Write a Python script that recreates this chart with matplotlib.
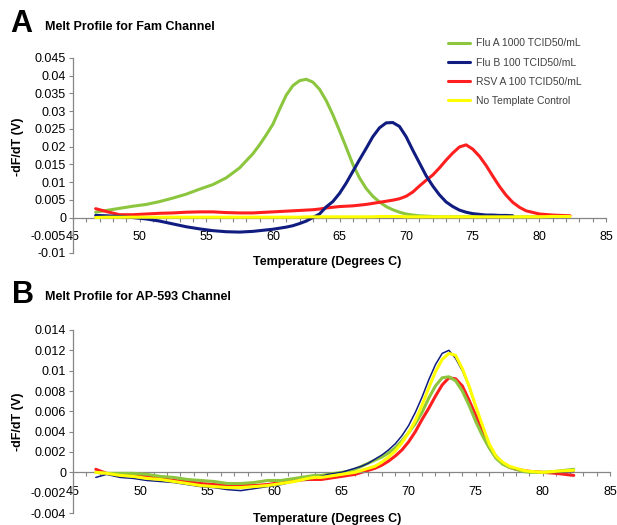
import numpy as np
import matplotlib
matplotlib.use('Agg')
import matplotlib.pyplot as plt
from matplotlib.ticker import MultipleLocator, FuncFormatter

plt.rcParams['font.family'] = ['Liberation Sans', 'DejaVu Sans']

# ---- Panel A: Fam channel ----
temp_a = [46.7, 47.5, 48.5, 49.5, 50.5, 51.5, 52.5, 53.5, 54.5, 55.5, 56.5, 57.5, 58.5,
          59, 59.5, 60, 60.5, 61, 61.5, 62, 62.5, 63, 63.5, 64, 64.5, 65, 65.5, 66, 66.5,
          67, 67.5, 68, 68.5, 69, 69.5, 70, 70.5, 71, 71.5, 72, 72.5, 73, 73.5, 74, 74.5,
          75, 75.5, 76, 76.5, 77, 77.5, 78, 78.5, 79, 80, 81, 82.3]

flu_a_a = [0.0015, 0.0020, 0.0026, 0.0032, 0.0037, 0.0045, 0.0055, 0.0066, 0.0080, 0.0093,
           0.0112, 0.0140, 0.0180,
           0.0205, 0.0233, 0.0263, 0.0305, 0.0345, 0.0372, 0.0386, 0.0390, 0.0382, 0.0362,
           0.0330, 0.0290, 0.0245, 0.0198, 0.0150, 0.0112, 0.0082, 0.0060, 0.0044, 0.0031,
           0.0022, 0.0015, 0.0010, 0.0007, 0.0005, 0.0004, 0.0003, 0.0002, 0.0002, 0.0002,
           0.0002, 0.0002, 0.0002, 0.0002, 0.0002, 0.0002, 0.0002, 0.0002, 0.0002, 0.0002,
           0.0002, 0.0002, np.nan, np.nan]

flu_b_a = [0.0006, 0.0005, 0.0003, 0.0000, -0.0004, -0.0010, -0.0018, -0.0026, -0.0032,
           -0.0037, -0.0040, -0.0041, -0.0039,
           -0.0037, -0.0035, -0.0033, -0.0030, -0.0027, -0.0023, -0.0017, -0.0010, 0.0000,
           0.0010, 0.0030, 0.0045, 0.0068, 0.0097, 0.0130, 0.0163, 0.0195, 0.0228, 0.0253,
           0.0267, 0.0268, 0.0257, 0.0228, 0.0190, 0.0154, 0.0118, 0.0089, 0.0064, 0.0044,
           0.0031, 0.0021, 0.0015, 0.0011, 0.0009, 0.0007, 0.0007, 0.0006, 0.0006, 0.0005,
           np.nan, np.nan, np.nan, np.nan, np.nan]

rsv_a_a = [0.0025, 0.0017, 0.0008, 0.0008, 0.0010, 0.0012, 0.0013, 0.0015, 0.0016, 0.0016,
           0.0014, 0.0013, 0.0013,
           0.0014, 0.0015, 0.0016, 0.0017, 0.0018, 0.0019, 0.0020, 0.0021, 0.0022, 0.0024,
           0.0027, 0.0029, 0.0031, 0.0032, 0.0033, 0.0035, 0.0037, 0.0040, 0.0043, 0.0046,
           0.0049, 0.0053, 0.0060, 0.0072, 0.0089, 0.0105, 0.0120, 0.0140, 0.0162, 0.0182,
           0.0199, 0.0205, 0.0193, 0.0173, 0.0147, 0.0117, 0.0088, 0.0063, 0.0043, 0.0029,
           0.0019, 0.0010, 0.0007, 0.0005]

ntc_a = [0.0000, 0.0001, 0.0001, 0.0001, 0.0001, 0.0001, 0.0001, 0.0001, 0.0001, 0.0001,
         0.0001, 0.0001, 0.0001,
         0.0001, 0.0001, 0.0001, 0.0001, 0.0001, 0.0001, 0.0001, 0.0002, 0.0002, 0.0002,
         0.0002, 0.0002, 0.0002, 0.0002, 0.0002, 0.0002, 0.0002, 0.0002, 0.0003, 0.0003,
         0.0003, 0.0003, 0.0002, 0.0002, 0.0002, 0.0002, 0.0002, 0.0002, 0.0002, 0.0002,
         0.0002, 0.0002, 0.0002, 0.0002, 0.0002, 0.0002, 0.0002, 0.0002, 0.0002, 0.0002,
         0.0002, 0.0002, 0.0003, 0.0003]

# ---- Panel B: AP-593 channel ----
temp_b = [46.7, 47.5, 48.5, 49.5, 50.5, 51.5, 52.5, 53.5, 54.5, 55.5, 56.5, 57.5, 58.5,
          59.5, 60.5, 61.5, 62.5, 63, 63.5, 64, 64.5, 65, 65.5, 66, 66.5, 67, 67.5, 68,
          68.5, 69, 69.5, 70, 70.5, 71, 71.5, 72, 72.5, 73, 73.5, 74, 74.5, 75, 75.5, 76,
          76.5, 77, 77.5, 78, 78.5, 79, 80, 81, 82.3]

flu_a_b = [0.0000, -0.0001, -0.0001, -0.0001, -0.0002, -0.0004, -0.0005, -0.0007, -0.0008,
           -0.0009, -0.0011, -0.0011, -0.0010, -0.0008, -0.0008, -0.0006, -0.0004,
           -0.0003, -0.0003, -0.0002, -0.0001, 0.0000, 0.0001, 0.0003, 0.0006, 0.0009,
           0.0012, 0.0015, 0.0019, 0.0024, 0.0031, 0.0039, 0.0048, 0.0059, 0.0073, 0.0085,
           0.0093, 0.0094, 0.0090, 0.0080, 0.0066, 0.0050, 0.0036, 0.0024, 0.0014, 0.0008,
           0.0005, 0.0003, 0.0001, 0.0000, 0.0000, 0.0001, 0.0003]

flu_b_b = [-0.0005, -0.0002, -0.0005, -0.0006, -0.0008, -0.0009, -0.0010, -0.0012, -0.0014,
           -0.0015, -0.0017, -0.0018, -0.0016, -0.0014, -0.0012, -0.0009, -0.0007,
           -0.0005, -0.0004, -0.0002, -0.0001, 0.0000, 0.0002, 0.0004, 0.0006, 0.0009,
           0.0013, 0.0017, 0.0022, 0.0028, 0.0036, 0.0046, 0.0059, 0.0074, 0.0091, 0.0106,
           0.0117, 0.0120, 0.0112, 0.0100, 0.0084, 0.0064, 0.0044, 0.0028, 0.0017, 0.0010,
           0.0006, 0.0003, 0.0002, 0.0001, 0.0000, 0.0000, 0.0001]

rsv_a_b = [0.0003, -0.0001, -0.0003, -0.0003, -0.0004, -0.0006, -0.0008, -0.0009, -0.0011,
           -0.0012, -0.0013, -0.0013, -0.0013, -0.0012, -0.0010, -0.0008, -0.0007,
           -0.0007, -0.0007, -0.0006, -0.0005, -0.0004, -0.0003, -0.0002, 0.0000, 0.0002,
           0.0004, 0.0007, 0.0011, 0.0016, 0.0022, 0.0030, 0.0040, 0.0052, 0.0063, 0.0075,
           0.0086, 0.0093, 0.0092, 0.0085, 0.0071, 0.0056, 0.0040, 0.0026, 0.0015, 0.0009,
           0.0005, 0.0003, 0.0002, 0.0001, 0.0000, -0.0001, -0.0003]

ntc_b = [0.0000, -0.0001, -0.0003, -0.0004, -0.0006, -0.0007, -0.0009, -0.0011, -0.0013,
         -0.0014, -0.0015, -0.0015, -0.0014, -0.0013, -0.0011, -0.0009, -0.0006,
         -0.0005, -0.0005, -0.0004, -0.0003, -0.0002, -0.0001, 0.0000, 0.0002, 0.0004,
         0.0006, 0.0010, 0.0015, 0.0021, 0.0029, 0.0039, 0.0051, 0.0066, 0.0083, 0.0099,
         0.0111, 0.0117, 0.0115, 0.0102, 0.0085, 0.0065, 0.0046, 0.0028, 0.0016, 0.0010,
         0.0006, 0.0004, 0.0002, 0.0001, 0.0000, 0.0001, 0.0002]

labels = ['Flu A 1000 TCID50/mL', 'Flu B 100 TCID50/mL', 'RSV A 100 TCID50/mL',
          'No Template Control']
colors = ['#8cc63e', '#101c80', '#ff1f1f', '#ffff00']

W, H = 617, 525
fig = plt.figure(figsize=(W / 100, H / 100), dpi=100)

axis_col = '#868686'


def fmt(v, pos):
    if abs(v) < 1e-12:
        return '0'
    return f'{v:g}'


def style(ax, ylo, yhi, ystep):
    ax.set_xlim(45, 85)
    ax.set_ylim(ylo, yhi)
    ax.spines['top'].set_visible(False)
    ax.spines['right'].set_visible(False)
    ax.spines['bottom'].set_position(('data', 0))
    for s in ['left', 'bottom']:
        ax.spines[s].set_color(axis_col)
        ax.spines[s].set_linewidth(0.9)
    ax.xaxis.set_major_locator(MultipleLocator(5))
    ax.xaxis.set_minor_locator(MultipleLocator(1))
    ax.yaxis.set_major_locator(MultipleLocator(ystep))
    ax.yaxis.set_major_formatter(FuncFormatter(fmt))
    ax.tick_params(axis='x', which='both', direction='out', length=3, width=0.8,
                   color=axis_col, pad=7, labelsize=9)
    ax.tick_params(axis='y', direction='out', length=3, width=0.8,
                   color=axis_col, pad=2, labelsize=9)


# Panel A
axA = fig.add_axes([73 / W, 1 - 253 / H, 533 / W, 195 / H])
style(axA, -0.01, 0.045, 0.005)
hA = []
for vals, c, lab, z in zip([flu_a_a, flu_b_a, rsv_a_a, ntc_a], colors, labels, [2, 4, 3, 5]):
    ln, = axA.plot(temp_a, vals, color=c, lw=2.2, label=lab, zorder=z,
                   solid_capstyle='round')
    hA.append(ln)
leg = axA.legend(handles=hA, loc='upper left', bbox_to_anchor=(448 / W, 1 - 38.5 / H),
                 bbox_transform=fig.transFigure, frameon=False, fontsize=7.5,
                 handlelength=2.1, handletextpad=0.6, labelspacing=0.88,
                 borderpad=0, borderaxespad=0)
for t in leg.get_texts():
    t.set_color('#404040')

# Panel B
axB = fig.add_axes([73 / W, 1 - 513 / H, 537 / W, 183 / H])
style(axB, -0.004, 0.014, 0.002)
widths_b = [2.2, 1.1, 2.2, 2.2]
for vals, c, lw, z in zip([flu_a_b, flu_b_b, rsv_a_b, ntc_b], colors, widths_b, [3, 4, 2, 5]):
    axB.plot(temp_b, vals, color=c, lw=lw, zorder=z, solid_capstyle='round')

# Panel letters, titles and axis titles
fig.text(10 / W, 1 - 24 / H, 'A', fontsize=22, fontweight='bold', va='center', ha='left')
fig.text(45 / W, 1 - 27 / H, 'Melt Profile for Fam Channel', fontsize=9,
         fontweight='bold', va='center', ha='left')
fig.text(12 / W, 1 - 295 / H, 'B', fontsize=22, fontweight='bold', va='center', ha='left')
fig.text(45 / W, 1 - 297 / H, 'Melt Profile for AP-593 Channel', fontsize=9,
         fontweight='bold', va='center', ha='left')

fig.text(327 / W, 1 - 262 / H, 'Temperature (Degrees C)', fontsize=9,
         fontweight='bold', va='center', ha='center')
fig.text(327 / W, 1 - 519 / H, 'Temperature (Degrees C)', fontsize=9,
         fontweight='bold', va='center', ha='center')
fig.text(18 / W, 1 - 147 / H, '-dF/dT (V)', fontsize=9, fontweight='bold',
         rotation=90, va='center', ha='center')
fig.text(18 / W, 1 - 422 / H, '-dF/dT (V)', fontsize=9, fontweight='bold',
         rotation=90, va='center', ha='center')

fig.savefig('out.png', dpi=100)
